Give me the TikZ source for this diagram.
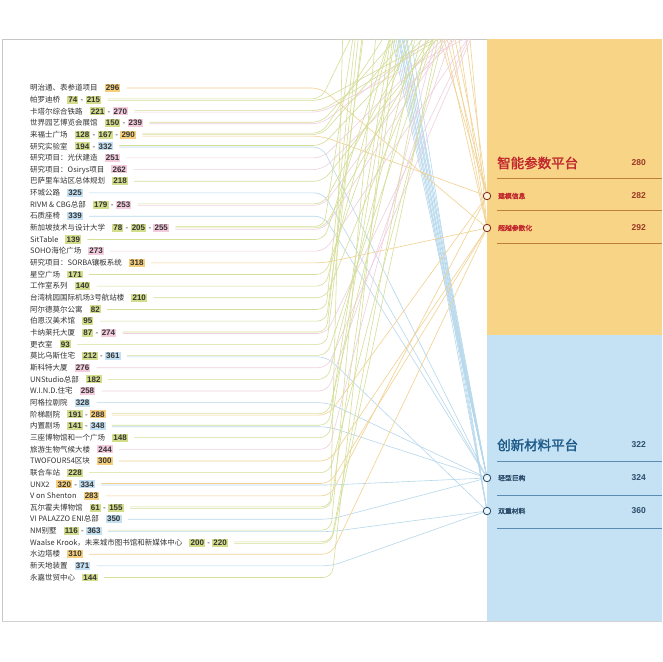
\documentclass[tikz,border=0pt]{standalone}
\usepackage{fontspec}
\setmainfont{Liberation Sans}
\newfontfamily\cjk{Noto Sans CJK SC}
\newfontfamily\cjkb{Noto Sans CJK SC}[FakeBold=2]
\usetikzlibrary{calc}
\pgfdeclarelayer{back}
\pgfdeclarelayer{lines}
\pgfsetlayers{back,lines,main}
\definecolor{cg}{HTML}{D4DD8C}
\definecolor{cp}{HTML}{F3CBDD}
\definecolor{co}{HTML}{F6CF7C}
\definecolor{cb}{HTML}{C3E0F2}
\definecolor{lgc}{HTML}{D6DE98}
\definecolor{lpc}{HTML}{F0CFE0}
\definecolor{loc}{HTML}{F2D18F}
\definecolor{lbc}{HTML}{B6D8EC}
\definecolor{panelO}{HTML}{F8D486}
\definecolor{panelB}{HTML}{C4E2F3}
\definecolor{redT}{HTML}{C1272D}
\definecolor{redN}{HTML}{9B3A24}
\definecolor{ruleOc}{HTML}{BC803A}
\definecolor{blueT}{HTML}{1D5A88}
\definecolor{blueN}{HTML}{2B4C6B}
\definecolor{ruleBc}{HTML}{5C8BB0}
\definecolor{labeltext}{HTML}{333333}
\setlength\fboxsep{1.2pt}
\newcommand\setpgc[1]{\ifnum#1<238 \def\pgcol{cg}\else\ifnum#1<280 \def\pgcol{cp}\else\ifnum#1<322 \def\pgcol{co}\else\def\pgcol{cb}\fi\fi\fi}
\newcommand\pgb[1]{\setpgc{#1}\colorbox{\pgcol}{\rmfamily\bfseries\fontsize{8}{9}\selectfont #1}}
\newcommand\dsh{\hspace{2.2pt}{\rmfamily\fontsize{8}{9}\selectfont -}\hspace{2.2pt}}
\newcommand\numlist[1]{\foreach \p [count=\k] in {#1}{\ifnum\k>1\dsh\fi\pgb{\p}}}
\newcommand\setdest[2]{%
  \ifnum#1<238
    \def\lcol{lg}\pgfmathsetmacro\xt{342+(#1-60)*0.6}\coordinate (t#2) at (\xt,39);\def\destname{t#2}%
  \else\ifnum#1<280
    \def\lcol{lp}\pgfmathsetmacro\xt{430+(#1-239)*1.1}\coordinate (t#2) at (\xt,39);\def\destname{t#2}%
  \else\ifnum#1<292 \def\lcol{lo}\def\destname{c1}%
  \else\ifnum#1<322 \def\lcol{lo}\def\destname{c2}%
  \else\ifnum#1<360 \def\lcol{lb}\def\destname{c3}%
  \else\def\lcol{lb}\def\destname{c4}%
  \fi\fi\fi\fi\fi}
\newcommand\entry[3]{%
  \pgfmathsetmacro\yy{88+(#1-1)*11.655}%
  \node[lbl] (i#1) at (30,\yy) {#2\hspace{7pt}\numlist{#3}};
  \foreach \p [count=\k] in {#3}{\xdef\nn{\k}}%
  \foreach \p [count=\k] in {#3}{%
    \pgfmathsetmacro\ly{\yy+(\k-(\nn+1)/2)*1.5}%
    \pgfmathsetmacro\ndy{((\nn+1)/2-\k)*1.5}%
    \pgfmathsetmacro\bx{321+11*(#1-1)/42}%
    \setdest{\p}{#1-\k}%
    \draw[\lcol] ([xshift=6pt,yshift=\ndy pt]i#1.east) -- (\bx,\ly) -- (\destname);
  }%
}
\begin{document}
\begin{tikzpicture}[x=1pt,y=-1pt,
  lbl/.style={anchor=west,inner sep=0pt,text=labeltext,font=\cjk\fontsize{7.5}{9}\selectfont},
  ln/.style={line width=0.6pt,rounded corners=9pt},
  lg/.style={ln,draw=lgc},
  lp/.style={ln,draw=lpc},
  lo/.style={ln,draw=loc},
  lb/.style={ln,draw=lbc},
  circO/.style={circle,minimum size=7.5pt,inner sep=0pt,draw=redN!80!black,line width=0.8pt,fill=panelO!35!white},
  circB/.style={circle,minimum size=7.5pt,inner sep=0pt,draw=blueN,line width=0.8pt,fill=panelB!35!white},
  ttlO/.style={anchor=west,inner sep=0pt,text=redT,font=\cjkb\fontsize{13.5}{15}\selectfont},
  ttlB/.style={anchor=west,inner sep=0pt,text=blueT,font=\cjkb\fontsize{13.5}{15}\selectfont},
  subO/.style={anchor=west,inner sep=0pt,text=redT,font=\cjkb\fontsize{6.8}{8}\selectfont},
  subB/.style={anchor=west,inner sep=0pt,text=blueN,font=\cjkb\fontsize{6.8}{8}\selectfont},
  numO/.style={anchor=east,inner sep=0pt,text=redN,font=\bfseries\fontsize{8.5}{10}\selectfont},
  numB/.style={anchor=east,inner sep=0pt,text=blueN,font=\bfseries\fontsize{8.5}{10}\selectfont},
  ruleO/.style={draw=ruleOc,line width=0.8pt},
  ruleB/.style={draw=ruleBc,line width=0.8pt}]
\useasboundingbox (0,0) rectangle (662,662);
\begin{pgfonlayer}{back}
  \fill[white] (0,0) rectangle (662,662);
  \fill[panelO] (487,39) rectangle (662,335);
  \fill[panelB] (487,335) rectangle (662,621);
  \draw[gray!45,line width=0.6pt] (2,39) -- (487,39);
  \draw[gray!45,line width=1.5pt] (2.5,39) -- (2.5,621.5);
  \draw[gray!35,line width=1.5pt] (2,621.5) -- (662,621.5);
\end{pgfonlayer}
% platform panels
\node[ttlO] (pA) at (497,163) {智能参数平台};
\node[numO] (nA) at (646,163) {280};
\draw[ruleO] (497,178) -- (662,178);
\node[circO] (c1) at (487,196) {};
\node[subO] (sA1) at (498,196) {建模信息};
\node[numO] (nA1) at (646,196) {282};
\draw[ruleO] (497,210.5) -- (662,210.5);
\node[circO] (c2) at (487,228) {};
\node[subO] (sA2) at (498,228) {超越参数化};
\node[numO] (nA2) at (646,228) {292};
\draw[ruleO] (497,243.5) -- (662,243.5);
\node[ttlB] (pB) at (497,445) {创新材料平台};
\node[numB] (nB) at (646,445) {322};
\draw[ruleB] (497,461) -- (662,461);
\node[circB] (c3) at (487,478) {};
\node[subB] (sB1) at (498,478) {轻型巨构};
\node[numB] (nB1) at (646,478) {324};
\draw[ruleB] (497,495) -- (662,495);
\node[circB] (c4) at (487,511) {};
\node[subB] (sB2) at (498,511) {双重材料};
\node[numB] (nB2) at (646,511) {360};
\draw[ruleB] (497,528) -- (662,528);
\begin{pgfonlayer}{lines}
% lines coming from beyond the page top
\foreach \x/\t [count=\n] in {392/c3,394/c3,396/c3,398/c3,400/c3,402/c3,404/c3,406/c3,399/c4,403/c4,407/c4,411/c4,440/c1,447/c1,455/c1,466/c1,444/c2,451/c2,459/c2,470/c2}{
  \coordinate (u\n) at (\x,39);
  \ifnum\x<430 \draw[lb] (u\n) -- (\t); \else \draw[lo] (u\n) -- (\t); \fi
}
\entry{1}{明治通、表参道项目}{296}
\entry{2}{帕罗迪桥}{74,215}
\entry{3}{卡塔尔综合铁路}{221,270}
\entry{4}{世界园艺博览会展馆}{150,239}
\entry{5}{来福士广场}{128,167,290}
\entry{6}{研究实验室}{194,332}
\entry{7}{研究项目：光伏建造}{251}
\entry{8}{研究项目：Osirys项目}{262}
\entry{9}{巴萨里车站区总体规划}{218}
\entry{10}{环城公路}{325}
\entry{11}{RIVM \& CBG总部}{179,253}
\entry{12}{石质座椅}{339}
\entry{13}{新加坡技术与设计大学}{78,205,255}
\entry{14}{SitTable}{139}
\entry{15}{SOHO海伦广场}{273}
\entry{16}{研究项目：SORBA镶板系统}{318}
\entry{17}{星空广场}{171}
\entry{18}{工作室系列}{140}
\entry{19}{台湾桃园国际机场3号航站楼}{210}
\entry{20}{阿尔德莫尔公寓}{82}
\entry{21}{伯恩汉美术馆}{95}
\entry{22}{卡纳莱托大厦}{87,274}
\entry{23}{更衣室}{93}
\entry{24}{莫比乌斯住宅}{212,361}
\entry{25}{斯科特大厦}{276}
\entry{26}{UNStudio总部}{182}
\entry{27}{W.I.N.D.住宅}{258}
\entry{28}{阿格拉剧院}{328}
\entry{29}{阶梯剧院}{191,288}
\entry{30}{内置剧场}{141,348}
\entry{31}{三座博物馆和一个广场}{148}
\entry{32}{旅游生物气候大楼}{244}
\entry{33}{TWOFOUR54区块}{300}
\entry{34}{联合车站}{228}
\entry{35}{UNX2}{320,334}
\entry{36}{V on Shenton}{283}
\entry{37}{瓦尔霍夫博物馆}{61,155}
\entry{38}{VI PALAZZO ENI总部}{350}
\entry{39}{NM别墅}{116,363}
\entry{40}{Waalse Krook，未来城市图书馆和新媒体中心}{200,220}
\entry{41}{水边塔楼}{310}
\entry{42}{新天地装置}{371}
\entry{43}{永嘉世贸中心}{144}
\end{pgfonlayer}
\end{tikzpicture}
\end{document}
